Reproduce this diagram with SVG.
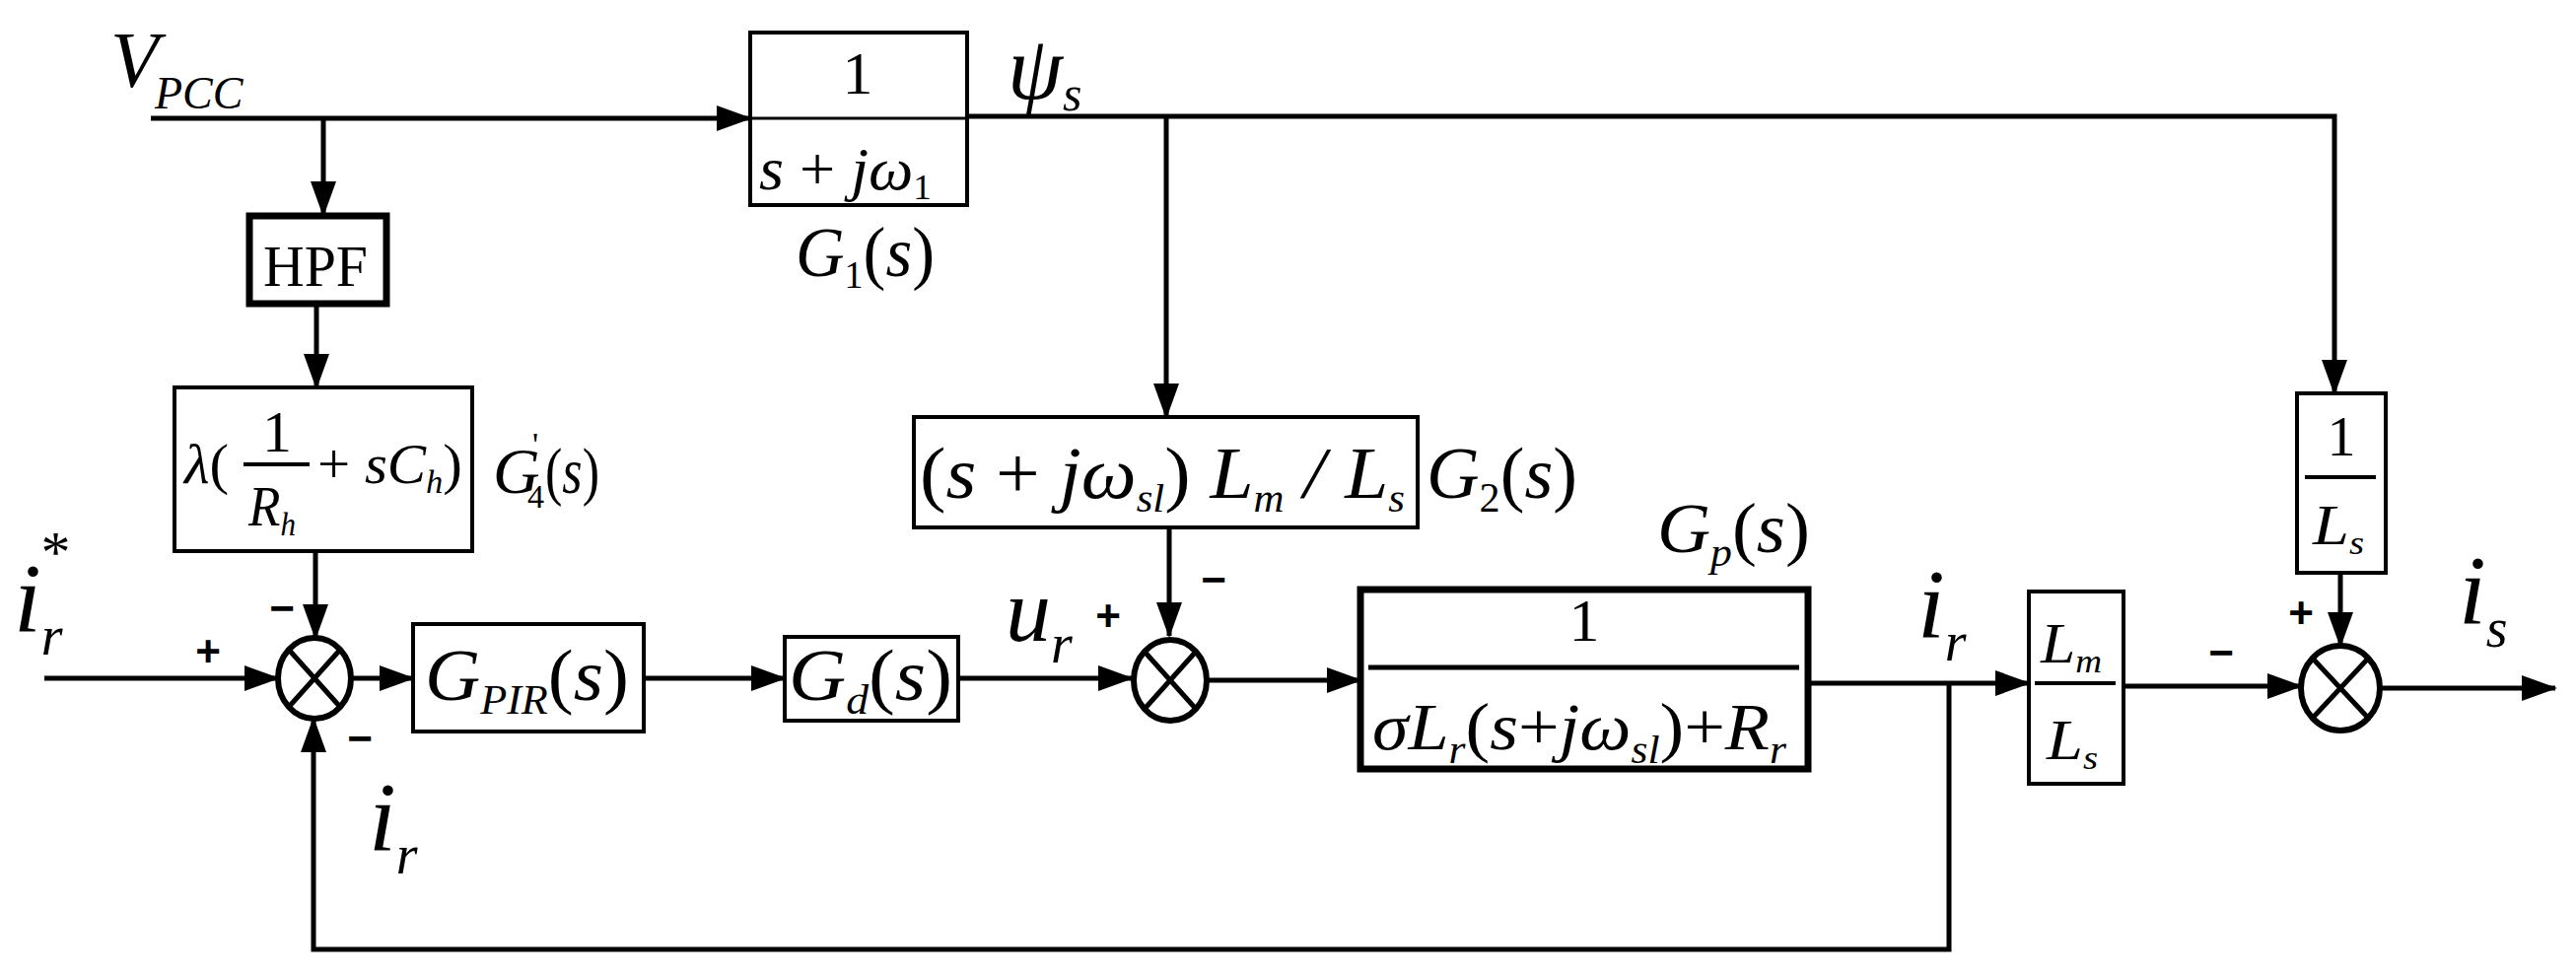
<svg xmlns="http://www.w3.org/2000/svg" width="2613" height="990" viewBox="0 0 2613 990">
<style>
.ln{stroke:#000;stroke-width:5;fill:none}
.sm{stroke:#000;stroke-width:6;fill:#fff}
.bx{stroke:#000;stroke-width:4;fill:#fff}
.bxt{stroke:#000;stroke-width:7;fill:#fff}
.t{font-family:"Liberation Serif",serif;font-style:italic;fill:#000}
.r{font-family:"Liberation Serif",serif;fill:#000}
.s{font-family:"Liberation Sans",sans-serif;font-size:44px;font-weight:bold;fill:#000}
</style>
<defs>
<marker id="a" markerUnits="userSpaceOnUse" markerWidth="36" markerHeight="26" refX="34" refY="13" orient="auto"><path d="M0,0 L36,13 L0,26 Z" fill="#000"/></marker>
</defs>
<rect width="2613" height="990" fill="#fff"/>
<g id="connectors">
<path class="ln" d="M153,120 H761" marker-end="url(#a)"/>
<path class="ln" d="M328,120 V218" marker-end="url(#a)"/>
<path class="ln" d="M321,308 V393" marker-end="url(#a)"/>
<path class="ln" d="M320,559 V647" marker-end="url(#a)"/>
<path class="ln" d="M981,118 H2368 V399" marker-end="url(#a)"/>
<path class="ln" d="M1183,118 V423" marker-end="url(#a)"/>
<path class="ln" d="M1186,535 V645" marker-end="url(#a)"/>
<path class="ln" d="M45,688 H282" marker-end="url(#a)"/>
<path class="ln" d="M356,688 H419" marker-end="url(#a)"/>
<path class="ln" d="M653,688 H796" marker-end="url(#a)"/>
<path class="ln" d="M972,688 H1148" marker-end="url(#a)"/>
<path class="ln" d="M1224,690 H1380" marker-end="url(#a)"/>
<path class="ln" d="M1834,693 H2058" marker-end="url(#a)"/>
<path class="ln" d="M2154,696 H2334" marker-end="url(#a)"/>
<path class="ln" d="M2374,581 V655" marker-end="url(#a)"/>
<path class="ln" d="M2414,698 H2592" marker-end="url(#a)"/>
<path class="ln" d="M1977,693 V963 H318 V729" marker-end="url(#a)"/>
</g>
<g id="G1">
<rect class="bx" x="761" y="33" width="220" height="175"/>
<line x1="763" y1="120" x2="979" y2="120" stroke="#000" stroke-width="3"/>
<text class="r" x="870" y="95" font-size="62" text-anchor="middle">1</text>
<text class="t" x="770" y="192" font-size="62" textLength="175" lengthAdjust="spacingAndGlyphs">s <tspan font-style="normal">+</tspan> jω<tspan font-style="normal" font-size="36" dy="10">1</tspan></text>
<text class="t" x="807" y="280" font-size="72" textLength="141" lengthAdjust="spacingAndGlyphs">G<tspan font-style="normal" font-size="40" dy="12">1</tspan><tspan font-style="normal" dy="-12">(</tspan>s<tspan font-style="normal">)</tspan></text>
</g>
<g id="HPF">
<rect class="bxt" x="253" y="219" width="139" height="89"/>
<text class="r" x="267" y="290" font-size="60" textLength="106" lengthAdjust="spacingAndGlyphs">HPF</text>
</g>
<g id="G4">
<rect class="bx" x="177" y="393" width="302" height="166"/>
<text class="t" x="187" y="490" font-size="58" textLength="45" lengthAdjust="spacingAndGlyphs">λ<tspan font-style="normal">(</tspan></text>
<text class="r" x="281" y="458" font-size="60" text-anchor="middle">1</text>
<line x1="247" y1="471" x2="314" y2="471" stroke="#000" stroke-width="4"/>
<text class="t" x="252" y="533" font-size="58" textLength="48" lengthAdjust="spacingAndGlyphs">R<tspan font-size="34" dy="10">h</tspan></text>
<text class="t" x="322" y="490" font-size="58" textLength="147" lengthAdjust="spacingAndGlyphs"><tspan font-style="normal">+</tspan> sC<tspan font-size="34" dy="10">h</tspan><tspan font-style="normal" dy="-10">)</tspan></text>
<text class="t" x="500" y="500" font-size="66">G</text>
<text class="r" x="540" y="462" font-size="34">'</text>
<text class="r" x="535" y="515" font-size="34">4</text>
<text class="t" x="553" y="500" font-size="66" textLength="55" lengthAdjust="spacingAndGlyphs"><tspan font-style="normal">(</tspan>s<tspan font-style="normal">)</tspan></text>
</g>
<g id="sum1">
<ellipse class="sm" cx="319" cy="688" rx="37" ry="41"/>
<path class="ln" d="M293,659 L345,717 M345,659 L293,717"/>
</g>
<g id="GPIR">
<rect class="bx" x="419" y="633" width="234" height="109"/>
<text class="t" x="431" y="710" font-size="74" textLength="207" lengthAdjust="spacingAndGlyphs">G<tspan font-size="42" dy="14">PIR</tspan><tspan font-style="normal" dy="-14">(</tspan>s<tspan font-style="normal">)</tspan></text>
</g>
<g id="Gd">
<rect class="bx" x="796" y="646" width="176" height="85"/>
<text class="t" x="800" y="710" font-size="74" textLength="166" lengthAdjust="spacingAndGlyphs">G<tspan font-size="42" dy="14">d</tspan><tspan font-style="normal" dy="-14">(</tspan>s<tspan font-style="normal">)</tspan></text>
</g>
<g id="G2">
<rect class="bx" x="927" y="423" width="511" height="112"/>
<text class="t" x="933" y="505" font-size="74" textLength="492" lengthAdjust="spacingAndGlyphs"><tspan font-style="normal">(</tspan>s <tspan font-style="normal">+</tspan> jω<tspan font-size="40" dy="14">sl</tspan><tspan font-style="normal" dy="-14">)</tspan> L<tspan font-size="40" dy="14">m</tspan><tspan dy="-14"> / L</tspan><tspan font-size="40" dy="14">s</tspan></text>
<text class="t" x="1447" y="505" font-size="74" textLength="153" lengthAdjust="spacingAndGlyphs">G<tspan font-style="normal" font-size="42" dy="14">2</tspan><tspan font-style="normal" dy="-14">(</tspan>s<tspan font-style="normal">)</tspan></text>
</g>
<g id="sum2">
<ellipse class="sm" cx="1187" cy="690" rx="37" ry="41"/>
<path class="ln" d="M1161,661 L1213,719 M1213,661 L1161,719"/>
</g>
<g id="Gp">
<rect class="bxt" x="1380" y="598" width="454" height="182"/>
<text class="r" x="1607" y="650" font-size="62" text-anchor="middle">1</text>
<line x1="1388" y1="677" x2="1825" y2="677" stroke="#000" stroke-width="5"/>
<text class="t" x="1392" y="760" font-size="68" textLength="420" lengthAdjust="spacingAndGlyphs">σL<tspan font-size="40" dy="14">r</tspan><tspan font-style="normal" dy="-14">(</tspan>s<tspan font-style="normal">+</tspan>jω<tspan font-size="40" dy="14">sl</tspan><tspan font-style="normal" dy="-14">)+</tspan>R<tspan font-size="40" dy="14">r</tspan></text>
<text class="t" x="1681" y="560" font-size="72" textLength="155" lengthAdjust="spacingAndGlyphs">G<tspan font-size="42" dy="14">p</tspan><tspan font-style="normal" dy="-14">(</tspan>s<tspan font-style="normal">)</tspan></text>
</g>
<g id="LmLs">
<rect class="bx" x="2058" y="600" width="96" height="195"/>
<text class="t" x="2070" y="672" font-size="58" textLength="62" lengthAdjust="spacingAndGlyphs">L<tspan font-size="34" dy="10">m</tspan></text>
<line x1="2064" y1="693" x2="2146" y2="693" stroke="#000" stroke-width="4"/>
<text class="t" x="2076" y="770" font-size="58" textLength="52" lengthAdjust="spacingAndGlyphs">L<tspan font-size="34" dy="10">s</tspan></text>
</g>
<g id="invLs">
<rect class="bx" x="2330" y="399" width="90" height="182"/>
<text class="r" x="2375" y="462" font-size="58" text-anchor="middle">1</text>
<line x1="2338" y1="484" x2="2410" y2="484" stroke="#000" stroke-width="4"/>
<text class="t" x="2346" y="552" font-size="58" textLength="52" lengthAdjust="spacingAndGlyphs">L<tspan font-size="34" dy="10">s</tspan></text>
</g>
<g id="sum3">
<ellipse class="sm" cx="2374" cy="698" rx="40" ry="43"/>
<path class="ln" d="M2346,668 L2402,728 M2402,668 L2346,728"/>
</g>
<g id="labels">
<text class="t" x="112" y="88" font-size="80">V<tspan font-size="46" dx="-4" dy="22">PCC</tspan></text>
<text class="t" x="1022" y="100" font-size="90">ψ<tspan font-size="50" dy="12">s</tspan></text>
<text class="t" x="14" y="640" font-size="100">i<tspan font-size="56" dy="24">r</tspan><tspan font-style="normal" font-size="60" dx="-22" dy="-84">*</tspan></text>
<text class="t" x="374" y="862" font-size="100">i<tspan font-size="56" dy="24">r</tspan></text>
<text class="t" x="1020" y="650" font-size="92">u<tspan font-size="56" dy="22">r</tspan></text>
<text class="t" x="1945" y="646" font-size="100">i<tspan font-size="56" dy="24">r</tspan></text>
<text class="t" x="2494" y="632" font-size="100">i<tspan font-size="56" dy="24">s</tspan></text>
<text class="s" x="211" y="676" text-anchor="middle">+</text>
<text class="s" x="286" y="632" text-anchor="middle">−</text>
<text class="s" x="365" y="764" text-anchor="middle">−</text>
<text class="s" x="1124" y="640" text-anchor="middle">+</text>
<text class="s" x="1231" y="603" text-anchor="middle">−</text>
<text class="s" x="2253" y="677" text-anchor="middle">−</text>
<text class="s" x="2334" y="637" text-anchor="middle">+</text>
</g>
</svg>
